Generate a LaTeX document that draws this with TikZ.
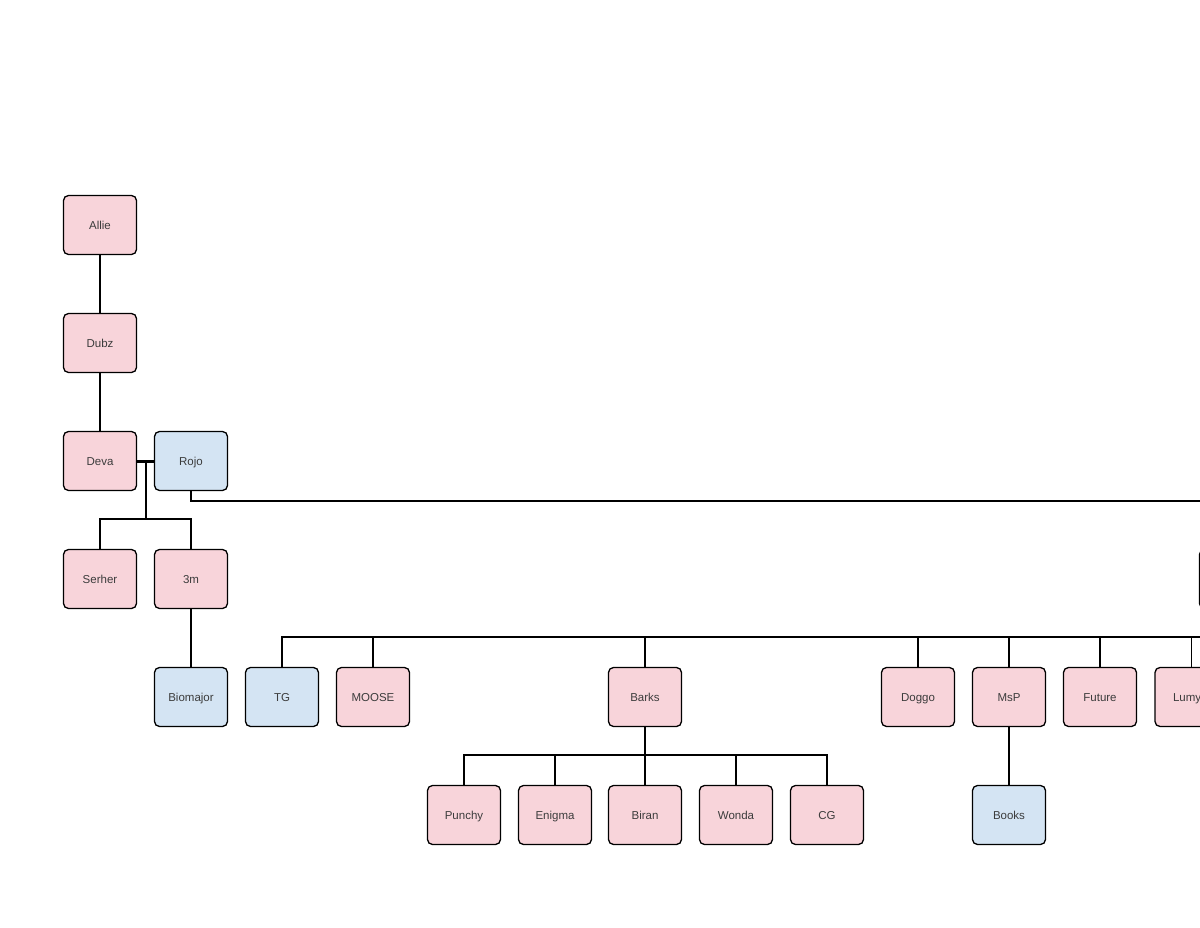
\documentclass[tikz,border=0pt]{standalone}
\usepackage{fontspec}
\setmainfont{Liberation Sans}
\usepackage{tikz}
\usetikzlibrary{backgrounds}
\definecolor{pinkfill}{RGB}{248,212,218}
\definecolor{bluefill}{RGB}{212,228,243}
\definecolor{textgray}{RGB}{60,60,60}
\tikzset{
  person/.style={draw=black, line width=1.3pt, rounded corners=5pt,
    minimum width=73pt, minimum height=59pt, inner sep=0pt,
    text height=10pt, text depth=1pt,
    font=\fontsize{11.5}{13}\selectfont, text=textgray},
  pinkbox/.style={person, fill=pinkfill},
  bluebox/.style={person, fill=bluefill},
  link/.style={line width=1.6pt, black}
}
\begin{document}
\begin{tikzpicture}[x=1pt,y=-1pt]
\useasboundingbox[fill=white] (0,0) rectangle (1200,928);
% generations
\node[pinkbox] (Allie) at (100,225) {Allie};
\node[pinkbox] (Dubz) at (100,343) {Dubz};
\node[pinkbox] (Deva) at (100,461) {Deva};
\node[bluebox] (Rojo) at (191,461) {Rojo};
\node[pinkbox] (Serher) at (100,579) {Serher};
\node[pinkbox] (threem) at (191,579) {3m};
\node[pinkbox] (farright) at (1236,579) {};
\node[bluebox] (Biomajor) at (191,697) {Biomajor};
\node[bluebox] (TG) at (282,697) {TG};
\node[pinkbox] (MOOSE) at (373,697) {MOOSE};
\node[pinkbox] (Barks) at (645,697) {Barks};
\node[pinkbox] (Doggo) at (918,697) {Doggo};
\node[pinkbox] (MsP) at (1009,697) {MsP};
\node[pinkbox] (Future) at (1100,697) {Future};
\node[pinkbox, text width=37pt, align=left] (Lumy) at (1191.5,697) {Lumy};
\node[pinkbox] (Punchy) at (464,815) {Punchy};
\node[pinkbox] (Enigma) at (555,815) {Enigma};
\node[pinkbox] (Biran) at (645,815) {Biran};
\node[pinkbox] (Wonda) at (736,815) {Wonda};
\node[pinkbox] (CG) at (827,815) {CG};
\node[bluebox] (Books) at (1009,815) {Books};
% connectors
\coordinate (devarojo) at (146,461);
\coordinate (devakids) at (146,519);
\coordinate (rojoline) at (1300,501);
\coordinate (kids) at (1300,637);
\coordinate (barkskids) at (645,755);
\draw[link] (Allie) -- (Dubz);
\draw[link] (Dubz) -- (Deva);
\draw[line width=3pt] (Deva.east) -- (Rojo.west);
\draw[link] (devarojo) -- (devakids);
\foreach \n in {Serher,threem}
  \draw[link] (devakids) -| (\n.north);
\draw[link] (Rojo.south) |- (rojoline);
\draw[link] (threem) -- (Biomajor);
\foreach \n in {TG,MOOSE,Barks,Doggo,MsP,Future,Lumy}
  \draw[link] (kids) -| (\n.north);
\draw[link] (Barks.south) -- (barkskids);
\foreach \n in {Punchy,Enigma,Biran,Wonda,CG}
  \draw[link] (barkskids) -| (\n.north);
\draw[link] (MsP) -- (Books);
\end{tikzpicture}
\end{document}
